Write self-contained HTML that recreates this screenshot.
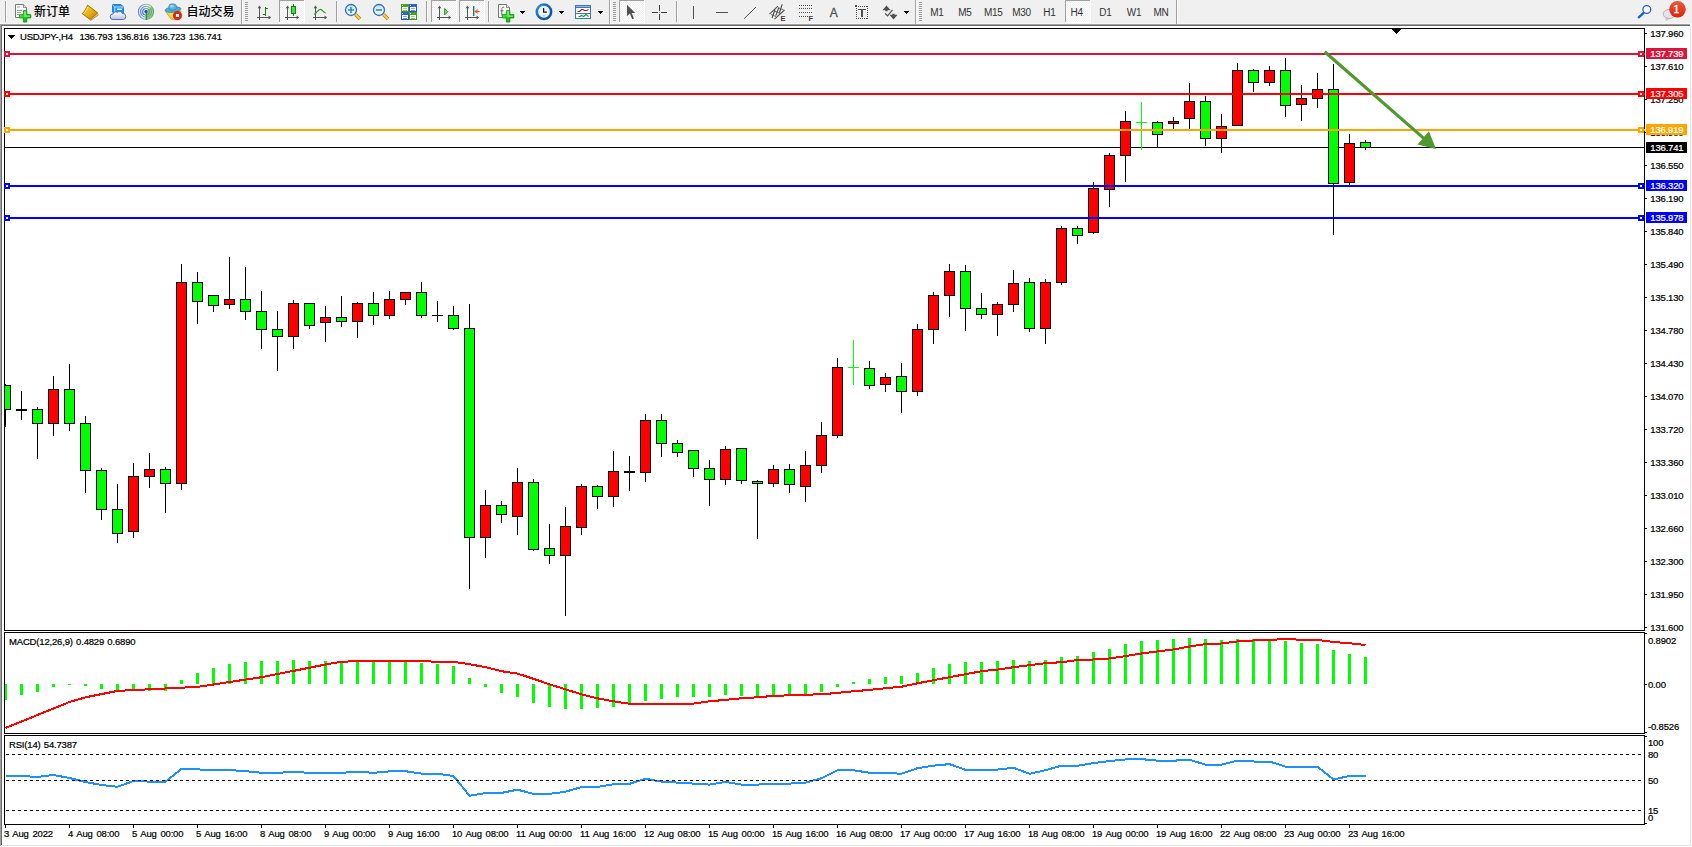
<!DOCTYPE html>
<html lang="zh"><head><meta charset="utf-8"><title>USDJPY-,H4</title>
<style>
html,body{margin:0;padding:0;background:#fff;}
body{width:1692px;height:847px;position:relative;overflow:hidden;font-family:"Liberation Sans","Noto Sans CJK SC",sans-serif;}
.chart{position:absolute;left:0;top:0;}
.chart .t text{font-family:"Liberation Sans",sans-serif;font-size:9.5px;letter-spacing:-0.17px;word-spacing:0.8px;stroke-width:0.22px;}
.chart .t text.d{word-spacing:1.25px;}
.tb{position:absolute;left:0;top:0;width:1692px;height:23px;background:#f0f0f0;}
.edge{position:absolute;}
</style></head><body>
<svg class="chart" width="1692" height="847" viewBox="0 0 1692 847">
<defs><clipPath id="cp"><rect x="5" y="29" width="1639" height="795"/></clipPath></defs>
<g shape-rendering="crispEdges" clip-path="url(#cp)">
<rect x="5" y="147" width="1640" height="1" fill="#000"/>
<rect x="5" y="384" width="1" height="43" fill="#000"/>
<rect x="0" y="385" width="11" height="25" fill="#000"/>
<rect x="1" y="386" width="9" height="23" fill="#00ff00"/>
<rect x="21" y="391" width="1" height="29" fill="#000"/>
<rect x="16" y="409" width="11" height="2" fill="#000"/>
<rect x="37" y="407" width="1" height="52" fill="#000"/>
<rect x="32" y="409" width="11" height="15" fill="#000"/>
<rect x="33" y="410" width="9" height="13" fill="#00ff00"/>
<rect x="53" y="376" width="1" height="60" fill="#000"/>
<rect x="48" y="389" width="11" height="35" fill="#000"/>
<rect x="49" y="390" width="9" height="33" fill="#ff0000"/>
<rect x="69" y="364" width="1" height="67" fill="#000"/>
<rect x="64" y="389" width="11" height="35" fill="#000"/>
<rect x="65" y="390" width="9" height="33" fill="#00ff00"/>
<rect x="85" y="416" width="1" height="77" fill="#000"/>
<rect x="80" y="423" width="11" height="48" fill="#000"/>
<rect x="81" y="424" width="9" height="46" fill="#00ff00"/>
<rect x="101" y="468" width="1" height="52" fill="#000"/>
<rect x="96" y="470" width="11" height="40" fill="#000"/>
<rect x="97" y="471" width="9" height="38" fill="#00ff00"/>
<rect x="117" y="484" width="1" height="59" fill="#000"/>
<rect x="112" y="509" width="11" height="25" fill="#000"/>
<rect x="113" y="510" width="9" height="23" fill="#00ff00"/>
<rect x="133" y="463" width="1" height="75" fill="#000"/>
<rect x="128" y="476" width="11" height="56" fill="#000"/>
<rect x="129" y="477" width="9" height="54" fill="#ff0000"/>
<rect x="149" y="453" width="1" height="35" fill="#000"/>
<rect x="144" y="469" width="11" height="8" fill="#000"/>
<rect x="145" y="470" width="9" height="6" fill="#ff0000"/>
<rect x="165" y="467" width="1" height="46" fill="#000"/>
<rect x="160" y="469" width="11" height="15" fill="#000"/>
<rect x="161" y="470" width="9" height="13" fill="#00ff00"/>
<rect x="181" y="264" width="1" height="226" fill="#000"/>
<rect x="176" y="282" width="11" height="202" fill="#000"/>
<rect x="177" y="283" width="9" height="200" fill="#ff0000"/>
<rect x="197" y="272" width="1" height="52" fill="#000"/>
<rect x="192" y="282" width="11" height="20" fill="#000"/>
<rect x="193" y="283" width="9" height="18" fill="#00ff00"/>
<rect x="213" y="295" width="1" height="17" fill="#000"/>
<rect x="208" y="295" width="11" height="11" fill="#000"/>
<rect x="209" y="296" width="9" height="9" fill="#00ff00"/>
<rect x="229" y="257" width="1" height="52" fill="#000"/>
<rect x="224" y="299" width="11" height="6" fill="#000"/>
<rect x="225" y="300" width="9" height="4" fill="#ff0000"/>
<rect x="245" y="267" width="1" height="53" fill="#000"/>
<rect x="240" y="299" width="11" height="13" fill="#000"/>
<rect x="241" y="300" width="9" height="11" fill="#00ff00"/>
<rect x="261" y="291" width="1" height="58" fill="#000"/>
<rect x="256" y="311" width="11" height="19" fill="#000"/>
<rect x="257" y="312" width="9" height="17" fill="#00ff00"/>
<rect x="277" y="311" width="1" height="60" fill="#000"/>
<rect x="272" y="329" width="11" height="8" fill="#000"/>
<rect x="273" y="330" width="9" height="6" fill="#00ff00"/>
<rect x="293" y="300" width="1" height="49" fill="#000"/>
<rect x="288" y="303" width="11" height="34" fill="#000"/>
<rect x="289" y="304" width="9" height="32" fill="#ff0000"/>
<rect x="309" y="303" width="1" height="26" fill="#000"/>
<rect x="304" y="303" width="11" height="23" fill="#000"/>
<rect x="305" y="304" width="9" height="21" fill="#00ff00"/>
<rect x="325" y="306" width="1" height="36" fill="#000"/>
<rect x="320" y="317" width="11" height="6" fill="#000"/>
<rect x="321" y="318" width="9" height="4" fill="#ff0000"/>
<rect x="341" y="296" width="1" height="31" fill="#000"/>
<rect x="336" y="317" width="11" height="5" fill="#000"/>
<rect x="337" y="318" width="9" height="3" fill="#00ff00"/>
<rect x="357" y="302" width="1" height="36" fill="#000"/>
<rect x="352" y="303" width="11" height="19" fill="#000"/>
<rect x="353" y="304" width="9" height="17" fill="#ff0000"/>
<rect x="373" y="292" width="1" height="33" fill="#000"/>
<rect x="368" y="303" width="11" height="13" fill="#000"/>
<rect x="369" y="304" width="9" height="11" fill="#00ff00"/>
<rect x="389" y="291" width="1" height="28" fill="#000"/>
<rect x="384" y="299" width="11" height="17" fill="#000"/>
<rect x="385" y="300" width="9" height="15" fill="#ff0000"/>
<rect x="405" y="292" width="1" height="13" fill="#000"/>
<rect x="400" y="292" width="11" height="8" fill="#000"/>
<rect x="401" y="293" width="9" height="6" fill="#ff0000"/>
<rect x="421" y="282" width="1" height="36" fill="#000"/>
<rect x="416" y="292" width="11" height="24" fill="#000"/>
<rect x="417" y="293" width="9" height="22" fill="#00ff00"/>
<rect x="437" y="301" width="1" height="21" fill="#000"/>
<rect x="432" y="315" width="11" height="1" fill="#000"/>
<rect x="453" y="306" width="1" height="24" fill="#000"/>
<rect x="448" y="315" width="11" height="14" fill="#000"/>
<rect x="449" y="316" width="9" height="12" fill="#00ff00"/>
<rect x="469" y="304" width="1" height="285" fill="#000"/>
<rect x="464" y="328" width="11" height="210" fill="#000"/>
<rect x="465" y="329" width="9" height="208" fill="#00ff00"/>
<rect x="485" y="490" width="1" height="68" fill="#000"/>
<rect x="480" y="505" width="11" height="33" fill="#000"/>
<rect x="481" y="506" width="9" height="31" fill="#ff0000"/>
<rect x="501" y="501" width="1" height="22" fill="#000"/>
<rect x="496" y="505" width="11" height="10" fill="#000"/>
<rect x="497" y="506" width="9" height="8" fill="#00ff00"/>
<rect x="517" y="468" width="1" height="67" fill="#000"/>
<rect x="512" y="482" width="11" height="35" fill="#000"/>
<rect x="513" y="483" width="9" height="33" fill="#ff0000"/>
<rect x="533" y="479" width="1" height="72" fill="#000"/>
<rect x="528" y="482" width="11" height="68" fill="#000"/>
<rect x="529" y="483" width="9" height="66" fill="#00ff00"/>
<rect x="549" y="524" width="1" height="40" fill="#000"/>
<rect x="544" y="548" width="11" height="8" fill="#000"/>
<rect x="545" y="549" width="9" height="6" fill="#00ff00"/>
<rect x="565" y="507" width="1" height="109" fill="#000"/>
<rect x="560" y="526" width="11" height="30" fill="#000"/>
<rect x="561" y="527" width="9" height="28" fill="#ff0000"/>
<rect x="581" y="484" width="1" height="51" fill="#000"/>
<rect x="576" y="486" width="11" height="42" fill="#000"/>
<rect x="577" y="487" width="9" height="40" fill="#ff0000"/>
<rect x="597" y="485" width="1" height="24" fill="#000"/>
<rect x="592" y="486" width="11" height="11" fill="#000"/>
<rect x="593" y="487" width="9" height="9" fill="#00ff00"/>
<rect x="613" y="451" width="1" height="56" fill="#000"/>
<rect x="608" y="471" width="11" height="26" fill="#000"/>
<rect x="609" y="472" width="9" height="24" fill="#ff0000"/>
<rect x="629" y="456" width="1" height="35" fill="#000"/>
<rect x="624" y="471" width="11" height="2" fill="#000"/>
<rect x="645" y="414" width="1" height="68" fill="#000"/>
<rect x="640" y="420" width="11" height="53" fill="#000"/>
<rect x="641" y="421" width="9" height="51" fill="#ff0000"/>
<rect x="661" y="414" width="1" height="43" fill="#000"/>
<rect x="656" y="420" width="11" height="24" fill="#000"/>
<rect x="657" y="421" width="9" height="22" fill="#00ff00"/>
<rect x="677" y="440" width="1" height="17" fill="#000"/>
<rect x="672" y="443" width="11" height="10" fill="#000"/>
<rect x="673" y="444" width="9" height="8" fill="#00ff00"/>
<rect x="693" y="450" width="1" height="27" fill="#000"/>
<rect x="688" y="450" width="11" height="19" fill="#000"/>
<rect x="689" y="451" width="9" height="17" fill="#00ff00"/>
<rect x="709" y="460" width="1" height="46" fill="#000"/>
<rect x="704" y="468" width="11" height="12" fill="#000"/>
<rect x="705" y="469" width="9" height="10" fill="#00ff00"/>
<rect x="725" y="446" width="1" height="39" fill="#000"/>
<rect x="720" y="449" width="11" height="31" fill="#000"/>
<rect x="721" y="450" width="9" height="29" fill="#ff0000"/>
<rect x="741" y="448" width="1" height="36" fill="#000"/>
<rect x="736" y="448" width="11" height="33" fill="#000"/>
<rect x="737" y="449" width="9" height="31" fill="#00ff00"/>
<rect x="757" y="480" width="1" height="59" fill="#000"/>
<rect x="752" y="481" width="11" height="3" fill="#000"/>
<rect x="753" y="482" width="9" height="1" fill="#00ff00"/>
<rect x="773" y="465" width="1" height="22" fill="#000"/>
<rect x="768" y="469" width="11" height="15" fill="#000"/>
<rect x="769" y="470" width="9" height="13" fill="#ff0000"/>
<rect x="789" y="464" width="1" height="29" fill="#000"/>
<rect x="784" y="469" width="11" height="16" fill="#000"/>
<rect x="785" y="470" width="9" height="14" fill="#00ff00"/>
<rect x="805" y="451" width="1" height="51" fill="#000"/>
<rect x="800" y="465" width="11" height="22" fill="#000"/>
<rect x="801" y="466" width="9" height="20" fill="#ff0000"/>
<rect x="821" y="422" width="1" height="51" fill="#000"/>
<rect x="816" y="435" width="11" height="31" fill="#000"/>
<rect x="817" y="436" width="9" height="29" fill="#ff0000"/>
<rect x="837" y="358" width="1" height="80" fill="#000"/>
<rect x="832" y="367" width="11" height="69" fill="#000"/>
<rect x="833" y="368" width="9" height="67" fill="#ff0000"/>
<rect x="853" y="340" width="1" height="45" fill="#00ff00"/>
<rect x="848" y="367" width="11" height="1" fill="#00ff00"/>
<rect x="869" y="361" width="1" height="28" fill="#000"/>
<rect x="864" y="368" width="11" height="18" fill="#000"/>
<rect x="865" y="369" width="9" height="16" fill="#00ff00"/>
<rect x="885" y="373" width="1" height="19" fill="#000"/>
<rect x="880" y="377" width="11" height="8" fill="#000"/>
<rect x="881" y="378" width="9" height="6" fill="#ff0000"/>
<rect x="901" y="363" width="1" height="50" fill="#000"/>
<rect x="896" y="376" width="11" height="16" fill="#000"/>
<rect x="897" y="377" width="9" height="14" fill="#00ff00"/>
<rect x="917" y="324" width="1" height="72" fill="#000"/>
<rect x="912" y="329" width="11" height="63" fill="#000"/>
<rect x="913" y="330" width="9" height="61" fill="#ff0000"/>
<rect x="933" y="292" width="1" height="52" fill="#000"/>
<rect x="928" y="295" width="11" height="35" fill="#000"/>
<rect x="929" y="296" width="9" height="33" fill="#ff0000"/>
<rect x="949" y="264" width="1" height="53" fill="#000"/>
<rect x="944" y="271" width="11" height="25" fill="#000"/>
<rect x="945" y="272" width="9" height="23" fill="#ff0000"/>
<rect x="965" y="265" width="1" height="66" fill="#000"/>
<rect x="960" y="271" width="11" height="38" fill="#000"/>
<rect x="961" y="272" width="9" height="36" fill="#00ff00"/>
<rect x="981" y="293" width="1" height="26" fill="#000"/>
<rect x="976" y="308" width="11" height="7" fill="#000"/>
<rect x="977" y="309" width="9" height="5" fill="#00ff00"/>
<rect x="997" y="302" width="1" height="34" fill="#000"/>
<rect x="992" y="304" width="11" height="11" fill="#000"/>
<rect x="993" y="305" width="9" height="9" fill="#ff0000"/>
<rect x="1013" y="270" width="1" height="42" fill="#000"/>
<rect x="1008" y="283" width="11" height="22" fill="#000"/>
<rect x="1009" y="284" width="9" height="20" fill="#ff0000"/>
<rect x="1029" y="278" width="1" height="54" fill="#000"/>
<rect x="1024" y="282" width="11" height="47" fill="#000"/>
<rect x="1025" y="283" width="9" height="45" fill="#00ff00"/>
<rect x="1045" y="279" width="1" height="65" fill="#000"/>
<rect x="1040" y="282" width="11" height="47" fill="#000"/>
<rect x="1041" y="283" width="9" height="45" fill="#ff0000"/>
<rect x="1061" y="226" width="1" height="59" fill="#000"/>
<rect x="1056" y="228" width="11" height="55" fill="#000"/>
<rect x="1057" y="229" width="9" height="53" fill="#ff0000"/>
<rect x="1077" y="226" width="1" height="18" fill="#000"/>
<rect x="1072" y="228" width="11" height="8" fill="#000"/>
<rect x="1073" y="229" width="9" height="6" fill="#00ff00"/>
<rect x="1093" y="182" width="1" height="52" fill="#000"/>
<rect x="1088" y="188" width="11" height="45" fill="#000"/>
<rect x="1089" y="189" width="9" height="43" fill="#ff0000"/>
<rect x="1109" y="153" width="1" height="54" fill="#000"/>
<rect x="1104" y="155" width="11" height="35" fill="#000"/>
<rect x="1105" y="156" width="9" height="33" fill="#ff0000"/>
<rect x="1125" y="111" width="1" height="71" fill="#000"/>
<rect x="1120" y="121" width="11" height="35" fill="#000"/>
<rect x="1121" y="122" width="9" height="33" fill="#ff0000"/>
<rect x="1141" y="102" width="1" height="48" fill="#00ff00"/>
<rect x="1136" y="122" width="11" height="1" fill="#00ff00"/>
<rect x="1157" y="121" width="1" height="26" fill="#000"/>
<rect x="1152" y="122" width="11" height="13" fill="#000"/>
<rect x="1153" y="123" width="9" height="11" fill="#00ff00"/>
<rect x="1173" y="117" width="1" height="12" fill="#000"/>
<rect x="1168" y="121" width="11" height="3" fill="#000"/>
<rect x="1169" y="122" width="9" height="1" fill="#ff0000"/>
<rect x="1189" y="83" width="1" height="46" fill="#000"/>
<rect x="1184" y="101" width="11" height="18" fill="#000"/>
<rect x="1185" y="102" width="9" height="16" fill="#ff0000"/>
<rect x="1205" y="96" width="1" height="50" fill="#000"/>
<rect x="1200" y="101" width="11" height="38" fill="#000"/>
<rect x="1201" y="102" width="9" height="36" fill="#00ff00"/>
<rect x="1221" y="114" width="1" height="39" fill="#000"/>
<rect x="1216" y="126" width="11" height="13" fill="#000"/>
<rect x="1217" y="127" width="9" height="11" fill="#ff0000"/>
<rect x="1237" y="63" width="1" height="63" fill="#000"/>
<rect x="1232" y="70" width="11" height="56" fill="#000"/>
<rect x="1233" y="71" width="9" height="54" fill="#ff0000"/>
<rect x="1253" y="69" width="1" height="23" fill="#000"/>
<rect x="1248" y="70" width="11" height="13" fill="#000"/>
<rect x="1249" y="71" width="9" height="11" fill="#00ff00"/>
<rect x="1269" y="66" width="1" height="20" fill="#000"/>
<rect x="1264" y="70" width="11" height="13" fill="#000"/>
<rect x="1265" y="71" width="9" height="11" fill="#ff0000"/>
<rect x="1285" y="58" width="1" height="59" fill="#000"/>
<rect x="1280" y="70" width="11" height="36" fill="#000"/>
<rect x="1281" y="71" width="9" height="34" fill="#00ff00"/>
<rect x="1301" y="85" width="1" height="36" fill="#000"/>
<rect x="1296" y="98" width="11" height="7" fill="#000"/>
<rect x="1297" y="99" width="9" height="5" fill="#ff0000"/>
<rect x="1317" y="73" width="1" height="35" fill="#000"/>
<rect x="1312" y="89" width="11" height="10" fill="#000"/>
<rect x="1313" y="90" width="9" height="8" fill="#ff0000"/>
<rect x="1333" y="64" width="1" height="171" fill="#000"/>
<rect x="1328" y="89" width="11" height="95" fill="#000"/>
<rect x="1329" y="90" width="9" height="93" fill="#00ff00"/>
<rect x="1349" y="134" width="1" height="51" fill="#000"/>
<rect x="1344" y="143" width="11" height="40" fill="#000"/>
<rect x="1345" y="144" width="9" height="38" fill="#ff0000"/>
<rect x="1365" y="140" width="1" height="10" fill="#000"/>
<rect x="1360" y="142" width="11" height="6" fill="#000"/>
<rect x="1361" y="143" width="9" height="4" fill="#00ff00"/>
<rect x="4" y="684" width="3" height="16" fill="#00ff00"/>
<rect x="20" y="684" width="3" height="11" fill="#00ff00"/>
<rect x="36" y="684" width="3" height="8" fill="#00ff00"/>
<rect x="52" y="684" width="3" height="3" fill="#00ff00"/>
<rect x="68" y="684" width="3" height="1" fill="#00ff00"/>
<rect x="84" y="684" width="3" height="2" fill="#00ff00"/>
<rect x="100" y="684" width="3" height="5" fill="#00ff00"/>
<rect x="116" y="684" width="3" height="7" fill="#00ff00"/>
<rect x="132" y="684" width="3" height="7" fill="#00ff00"/>
<rect x="148" y="684" width="3" height="7" fill="#00ff00"/>
<rect x="164" y="684" width="3" height="7" fill="#00ff00"/>
<rect x="180" y="680" width="3" height="4" fill="#00ff00"/>
<rect x="196" y="673" width="3" height="11" fill="#00ff00"/>
<rect x="212" y="668" width="3" height="16" fill="#00ff00"/>
<rect x="228" y="664" width="3" height="20" fill="#00ff00"/>
<rect x="244" y="662" width="3" height="22" fill="#00ff00"/>
<rect x="260" y="661" width="3" height="23" fill="#00ff00"/>
<rect x="276" y="661" width="3" height="23" fill="#00ff00"/>
<rect x="292" y="660" width="3" height="24" fill="#00ff00"/>
<rect x="308" y="661" width="3" height="23" fill="#00ff00"/>
<rect x="324" y="661" width="3" height="23" fill="#00ff00"/>
<rect x="340" y="662" width="3" height="22" fill="#00ff00"/>
<rect x="356" y="662" width="3" height="22" fill="#00ff00"/>
<rect x="372" y="662" width="3" height="22" fill="#00ff00"/>
<rect x="388" y="662" width="3" height="22" fill="#00ff00"/>
<rect x="404" y="662" width="3" height="22" fill="#00ff00"/>
<rect x="420" y="663" width="3" height="21" fill="#00ff00"/>
<rect x="436" y="664" width="3" height="20" fill="#00ff00"/>
<rect x="452" y="666" width="3" height="18" fill="#00ff00"/>
<rect x="468" y="678" width="3" height="6" fill="#00ff00"/>
<rect x="484" y="684" width="3" height="3" fill="#00ff00"/>
<rect x="500" y="684" width="3" height="9" fill="#00ff00"/>
<rect x="516" y="684" width="3" height="13" fill="#00ff00"/>
<rect x="532" y="684" width="3" height="19" fill="#00ff00"/>
<rect x="548" y="684" width="3" height="23" fill="#00ff00"/>
<rect x="564" y="684" width="3" height="25" fill="#00ff00"/>
<rect x="580" y="684" width="3" height="25" fill="#00ff00"/>
<rect x="596" y="684" width="3" height="24" fill="#00ff00"/>
<rect x="612" y="684" width="3" height="23" fill="#00ff00"/>
<rect x="628" y="684" width="3" height="20" fill="#00ff00"/>
<rect x="644" y="684" width="3" height="17" fill="#00ff00"/>
<rect x="660" y="684" width="3" height="15" fill="#00ff00"/>
<rect x="676" y="684" width="3" height="13" fill="#00ff00"/>
<rect x="692" y="684" width="3" height="13" fill="#00ff00"/>
<rect x="708" y="684" width="3" height="13" fill="#00ff00"/>
<rect x="724" y="684" width="3" height="11" fill="#00ff00"/>
<rect x="740" y="684" width="3" height="12" fill="#00ff00"/>
<rect x="756" y="684" width="3" height="12" fill="#00ff00"/>
<rect x="772" y="684" width="3" height="11" fill="#00ff00"/>
<rect x="788" y="684" width="3" height="11" fill="#00ff00"/>
<rect x="804" y="684" width="3" height="10" fill="#00ff00"/>
<rect x="820" y="684" width="3" height="8" fill="#00ff00"/>
<rect x="836" y="684" width="3" height="3" fill="#00ff00"/>
<rect x="852" y="682" width="3" height="2" fill="#00ff00"/>
<rect x="868" y="679" width="3" height="5" fill="#00ff00"/>
<rect x="884" y="677" width="3" height="7" fill="#00ff00"/>
<rect x="900" y="676" width="3" height="8" fill="#00ff00"/>
<rect x="916" y="673" width="3" height="11" fill="#00ff00"/>
<rect x="932" y="668" width="3" height="16" fill="#00ff00"/>
<rect x="948" y="664" width="3" height="20" fill="#00ff00"/>
<rect x="964" y="662" width="3" height="22" fill="#00ff00"/>
<rect x="980" y="662" width="3" height="22" fill="#00ff00"/>
<rect x="996" y="661" width="3" height="23" fill="#00ff00"/>
<rect x="1012" y="660" width="3" height="24" fill="#00ff00"/>
<rect x="1028" y="661" width="3" height="23" fill="#00ff00"/>
<rect x="1044" y="660" width="3" height="24" fill="#00ff00"/>
<rect x="1060" y="657" width="3" height="27" fill="#00ff00"/>
<rect x="1076" y="656" width="3" height="28" fill="#00ff00"/>
<rect x="1092" y="652" width="3" height="32" fill="#00ff00"/>
<rect x="1108" y="649" width="3" height="35" fill="#00ff00"/>
<rect x="1124" y="644" width="3" height="40" fill="#00ff00"/>
<rect x="1140" y="641" width="3" height="43" fill="#00ff00"/>
<rect x="1156" y="640" width="3" height="44" fill="#00ff00"/>
<rect x="1172" y="639" width="3" height="45" fill="#00ff00"/>
<rect x="1188" y="638" width="3" height="46" fill="#00ff00"/>
<rect x="1204" y="639" width="3" height="45" fill="#00ff00"/>
<rect x="1220" y="640" width="3" height="44" fill="#00ff00"/>
<rect x="1236" y="639" width="3" height="45" fill="#00ff00"/>
<rect x="1252" y="639" width="3" height="45" fill="#00ff00"/>
<rect x="1268" y="639" width="3" height="45" fill="#00ff00"/>
<rect x="1284" y="641" width="3" height="43" fill="#00ff00"/>
<rect x="1300" y="643" width="3" height="41" fill="#00ff00"/>
<rect x="1316" y="644" width="3" height="40" fill="#00ff00"/>
<rect x="1332" y="650" width="3" height="34" fill="#00ff00"/>
<rect x="1348" y="654" width="3" height="30" fill="#00ff00"/>
<rect x="1364" y="657" width="3" height="27" fill="#00ff00"/>
</g>
<g clip-path="url(#cp)" shape-rendering="crispEdges"><polyline points="5.5,728.0 21.5,721.5 37.5,715.0 53.5,708.5 69.5,702.0 85.5,697.3 101.5,694.1 117.5,690.9 133.5,690.1 149.5,689.3 165.5,688.5 181.5,687.7 197.5,686.9 213.5,684.5 229.5,682.0 245.5,679.6 261.5,677.2 277.5,674.0 293.5,670.9 309.5,667.7 325.5,664.5 341.5,661.8 357.5,661.1 373.5,661.1 389.5,661.1 405.5,661.1 421.5,661.1 437.5,661.8 453.5,661.8 469.5,664.2 485.5,667.2 501.5,671.2 517.5,673.6 533.5,678.8 549.5,684.3 565.5,689.3 581.5,694.3 597.5,698.3 613.5,701.3 629.5,703.8 645.5,704.0 661.5,704.0 677.5,703.8 693.5,703.6 709.5,701.3 725.5,699.9 741.5,698.3 757.5,697.3 773.5,695.9 789.5,695.3 805.5,694.7 821.5,694.3 837.5,692.9 853.5,691.3 869.5,689.9 885.5,688.3 901.5,686.7 917.5,683.3 933.5,680.2 949.5,677.2 965.5,674.2 981.5,671.2 997.5,669.6 1013.5,667.2 1029.5,665.2 1045.5,663.2 1061.5,662.2 1077.5,660.1 1093.5,659.5 1109.5,658.5 1125.5,656.1 1141.5,653.5 1157.5,651.5 1173.5,649.5 1189.5,646.5 1205.5,644.1 1221.5,643.5 1237.5,641.5 1253.5,640.5 1269.5,640.0 1285.5,639.0 1301.5,639.8 1317.5,640.0 1333.5,642.0 1349.5,643.2 1365.5,645.0" fill="none" stroke="#ff0000" stroke-width="2" stroke-linejoin="round"/>
<polyline points="5.5,776.0 21.5,776.0 37.5,777.0 53.5,775.0 69.5,778.0 85.5,782.0 101.5,785.0 117.5,786.8 133.5,781.0 149.5,781.6 165.5,781.6 181.5,769.0 197.5,769.4 213.5,770.0 229.5,770.0 245.5,771.2 261.5,772.8 277.5,772.8 293.5,772.0 309.5,772.8 325.5,772.8 341.5,772.8 357.5,771.8 373.5,772.8 389.5,771.4 405.5,771.2 421.5,773.6 437.5,773.8 453.5,776.0 469.5,795.7 485.5,793.1 501.5,792.9 517.5,789.7 533.5,793.9 549.5,793.9 565.5,791.7 581.5,787.0 597.5,787.0 613.5,784.2 629.5,783.8 645.5,778.8 661.5,781.6 677.5,782.6 693.5,783.6 709.5,784.6 725.5,782.0 741.5,784.6 757.5,784.6 773.5,783.6 789.5,783.6 805.5,782.6 821.5,778.2 837.5,770.2 853.5,770.2 869.5,772.8 885.5,772.8 901.5,773.8 917.5,768.2 933.5,765.7 949.5,764.1 965.5,769.8 981.5,769.8 997.5,769.6 1013.5,767.8 1029.5,773.8 1045.5,770.2 1061.5,765.7 1077.5,765.7 1093.5,763.1 1109.5,761.1 1125.5,759.5 1141.5,759.1 1157.5,760.7 1173.5,760.7 1189.5,759.7 1205.5,764.7 1221.5,764.7 1237.5,760.7 1253.5,761.5 1269.5,761.5 1285.5,766.6 1301.5,766.6 1317.5,766.6 1333.5,779.5 1349.5,776.0 1365.5,776.0" fill="none" stroke="#1e90ff" stroke-width="2" stroke-linejoin="round"/></g>
<g shape-rendering="crispEdges">
<rect x="4" y="28" width="1641" height="1" fill="#000"/>
<rect x="4" y="630" width="1641" height="1" fill="#000"/>
<rect x="4" y="28" width="1" height="603" fill="#000"/>
<rect x="1644" y="28" width="1" height="603" fill="#000"/>
<rect x="4" y="632" width="1641" height="1" fill="#000"/>
<rect x="4" y="733" width="1641" height="1" fill="#000"/>
<rect x="4" y="632" width="1" height="102" fill="#000"/>
<rect x="1644" y="632" width="1" height="102" fill="#000"/>
<rect x="4" y="735" width="1641" height="1" fill="#000"/>
<rect x="4" y="824" width="1641" height="1" fill="#000"/>
<rect x="4" y="735" width="1" height="90" fill="#000"/>
<rect x="1644" y="735" width="1" height="90" fill="#000"/>
<rect x="1392" y="29" width="9" height="1" fill="#000"/>
<rect x="1393" y="30" width="7" height="1" fill="#000"/>
<rect x="1394" y="31" width="5" height="1" fill="#000"/>
<rect x="1395" y="32" width="3" height="1" fill="#000"/>
<rect x="1396" y="33" width="1" height="1" fill="#000"/>
<path d="M6 754.5H1644" stroke="#000" stroke-width="1" stroke-dasharray="3 3" fill="none"/>
<path d="M6 780.5H1644" stroke="#000" stroke-width="1" stroke-dasharray="3 3" fill="none"/>
<path d="M6 810.5H1644" stroke="#000" stroke-width="1" stroke-dasharray="3 3" fill="none"/>
<rect x="1645" y="33" width="2" height="1" fill="#000"/>
<rect x="1645" y="66" width="2" height="1" fill="#000"/>
<rect x="1645" y="99" width="2" height="1" fill="#000"/>
<rect x="1645" y="132" width="2" height="1" fill="#000"/>
<rect x="1645" y="165" width="2" height="1" fill="#000"/>
<rect x="1645" y="198" width="2" height="1" fill="#000"/>
<rect x="1645" y="231" width="2" height="1" fill="#000"/>
<rect x="1645" y="264" width="2" height="1" fill="#000"/>
<rect x="1645" y="297" width="2" height="1" fill="#000"/>
<rect x="1645" y="330" width="2" height="1" fill="#000"/>
<rect x="1645" y="363" width="2" height="1" fill="#000"/>
<rect x="1645" y="396" width="2" height="1" fill="#000"/>
<rect x="1645" y="429" width="2" height="1" fill="#000"/>
<rect x="1645" y="462" width="2" height="1" fill="#000"/>
<rect x="1645" y="495" width="2" height="1" fill="#000"/>
<rect x="1645" y="528" width="2" height="1" fill="#000"/>
<rect x="1645" y="561" width="2" height="1" fill="#000"/>
<rect x="1645" y="594" width="2" height="1" fill="#000"/>
<rect x="1645" y="627" width="2" height="1" fill="#000"/>
<rect x="1645" y="633" width="2" height="1" fill="#000"/>
<rect x="1645" y="684" width="2" height="1" fill="#000"/>
<rect x="1645" y="732" width="2" height="1" fill="#000"/>
<rect x="1645" y="736" width="2" height="1" fill="#000"/>
<rect x="1645" y="823" width="2" height="1" fill="#000"/>
<rect x="5" y="825" width="1" height="3" fill="#000"/>
<rect x="69" y="825" width="1" height="3" fill="#000"/>
<rect x="133" y="825" width="1" height="3" fill="#000"/>
<rect x="197" y="825" width="1" height="3" fill="#000"/>
<rect x="261" y="825" width="1" height="3" fill="#000"/>
<rect x="325" y="825" width="1" height="3" fill="#000"/>
<rect x="389" y="825" width="1" height="3" fill="#000"/>
<rect x="453" y="825" width="1" height="3" fill="#000"/>
<rect x="517" y="825" width="1" height="3" fill="#000"/>
<rect x="581" y="825" width="1" height="3" fill="#000"/>
<rect x="645" y="825" width="1" height="3" fill="#000"/>
<rect x="709" y="825" width="1" height="3" fill="#000"/>
<rect x="773" y="825" width="1" height="3" fill="#000"/>
<rect x="837" y="825" width="1" height="3" fill="#000"/>
<rect x="901" y="825" width="1" height="3" fill="#000"/>
<rect x="965" y="825" width="1" height="3" fill="#000"/>
<rect x="1029" y="825" width="1" height="3" fill="#000"/>
<rect x="1093" y="825" width="1" height="3" fill="#000"/>
<rect x="1157" y="825" width="1" height="3" fill="#000"/>
<rect x="1221" y="825" width="1" height="3" fill="#000"/>
<rect x="1285" y="825" width="1" height="3" fill="#000"/>
<rect x="1349" y="825" width="1" height="3" fill="#000"/>
<rect x="8" y="35" width="7" height="1" fill="#000"/>
<rect x="9" y="36" width="5" height="1" fill="#000"/>
<rect x="10" y="37" width="3" height="1" fill="#000"/>
<rect x="11" y="38" width="1" height="1" fill="#000"/>
<rect x="4" y="53" width="1641" height="2" fill="#dc143c"/>
<rect x="4" y="51" width="6" height="6" fill="#dc143c"/>
<rect x="6" y="53" width="2" height="2" fill="#fff"/>
<rect x="1638" y="51" width="6" height="6" fill="#dc143c"/>
<rect x="1640" y="53" width="2" height="2" fill="#fff"/>
<rect x="4" y="93" width="1641" height="2" fill="#ff0000"/>
<rect x="4" y="91" width="6" height="6" fill="#ff0000"/>
<rect x="6" y="93" width="2" height="2" fill="#fff"/>
<rect x="1638" y="91" width="6" height="6" fill="#ff0000"/>
<rect x="1640" y="93" width="2" height="2" fill="#fff"/>
<rect x="4" y="129" width="1641" height="2" fill="#ffa500"/>
<rect x="4" y="127" width="6" height="6" fill="#ffa500"/>
<rect x="6" y="129" width="2" height="2" fill="#fff"/>
<rect x="1638" y="127" width="6" height="6" fill="#ffa500"/>
<rect x="1640" y="129" width="2" height="2" fill="#fff"/>
<rect x="4" y="185" width="1641" height="2" fill="#0000ff"/>
<rect x="4" y="183" width="6" height="6" fill="#0000ff"/>
<rect x="6" y="185" width="2" height="2" fill="#fff"/>
<rect x="1638" y="183" width="6" height="6" fill="#0000ff"/>
<rect x="1640" y="185" width="2" height="2" fill="#fff"/>
<rect x="4" y="217" width="1641" height="2" fill="#0000ff"/>
<rect x="4" y="215" width="6" height="6" fill="#0000ff"/>
<rect x="6" y="217" width="2" height="2" fill="#fff"/>
<rect x="1638" y="215" width="6" height="6" fill="#0000ff"/>
<rect x="1640" y="217" width="2" height="2" fill="#fff"/>
</g>
<path d="M1324.7 51.7L1424.7 139.1" stroke="#4e9a2f" stroke-width="3.2" fill="none"/><path d="M1436.0 149.0L1417.5 144.4L1428.9 131.3Z" fill="#4e9a2f"/>
<g class="t">
<text x="1650.3" y="37" fill="#000" stroke="#000">137.960</text>
<text x="1650.3" y="70" fill="#000" stroke="#000">137.610</text>
<text x="1650.3" y="103" fill="#000" stroke="#000">137.250</text>
<text x="1650.3" y="136" fill="#000" stroke="#000">136.900</text>
<text x="1650.3" y="169" fill="#000" stroke="#000">136.550</text>
<text x="1650.3" y="202" fill="#000" stroke="#000">136.190</text>
<text x="1650.3" y="235" fill="#000" stroke="#000">135.840</text>
<text x="1650.3" y="268" fill="#000" stroke="#000">135.490</text>
<text x="1650.3" y="301" fill="#000" stroke="#000">135.130</text>
<text x="1650.3" y="334" fill="#000" stroke="#000">134.780</text>
<text x="1650.3" y="367" fill="#000" stroke="#000">134.430</text>
<text x="1650.3" y="400" fill="#000" stroke="#000">134.070</text>
<text x="1650.3" y="433" fill="#000" stroke="#000">133.720</text>
<text x="1650.3" y="466" fill="#000" stroke="#000">133.360</text>
<text x="1650.3" y="499" fill="#000" stroke="#000">133.010</text>
<text x="1650.3" y="532" fill="#000" stroke="#000">132.660</text>
<text x="1650.3" y="565" fill="#000" stroke="#000">132.300</text>
<text x="1650.3" y="598" fill="#000" stroke="#000">131.950</text>
<text x="1650.3" y="631" fill="#000" stroke="#000">131.600</text>
<text x="1648" y="643.5" fill="#000" stroke="#000">0.8902</text>
<text x="1648" y="688" fill="#000" stroke="#000">0.00</text>
<text x="1648" y="730" fill="#000" stroke="#000">-0.8526</text>
<text x="1648" y="746" fill="#000" stroke="#000">100</text>
<text x="1648" y="758" fill="#000" stroke="#000">80</text>
<text x="1648" y="784" fill="#000" stroke="#000">50</text>
<text x="1648" y="814" fill="#000" stroke="#000">15</text>
<text x="1648" y="821" fill="#000" stroke="#000">0</text>
<text x="4" y="836.8" fill="#000" stroke="#000" class="d">3 Aug 2022</text>
<text x="68" y="836.8" fill="#000" stroke="#000" class="d">4 Aug 08:00</text>
<text x="132" y="836.8" fill="#000" stroke="#000" class="d">5 Aug 00:00</text>
<text x="196" y="836.8" fill="#000" stroke="#000" class="d">5 Aug 16:00</text>
<text x="260" y="836.8" fill="#000" stroke="#000" class="d">8 Aug 08:00</text>
<text x="324" y="836.8" fill="#000" stroke="#000" class="d">9 Aug 00:00</text>
<text x="388" y="836.8" fill="#000" stroke="#000" class="d">9 Aug 16:00</text>
<text x="452" y="836.8" fill="#000" stroke="#000" class="d">10 Aug 08:00</text>
<text x="516" y="836.8" fill="#000" stroke="#000" class="d">11 Aug 00:00</text>
<text x="580" y="836.8" fill="#000" stroke="#000" class="d">11 Aug 16:00</text>
<text x="644" y="836.8" fill="#000" stroke="#000" class="d">12 Aug 08:00</text>
<text x="708" y="836.8" fill="#000" stroke="#000" class="d">15 Aug 00:00</text>
<text x="772" y="836.8" fill="#000" stroke="#000" class="d">15 Aug 16:00</text>
<text x="836" y="836.8" fill="#000" stroke="#000" class="d">16 Aug 08:00</text>
<text x="900" y="836.8" fill="#000" stroke="#000" class="d">17 Aug 00:00</text>
<text x="964" y="836.8" fill="#000" stroke="#000" class="d">17 Aug 16:00</text>
<text x="1028" y="836.8" fill="#000" stroke="#000" class="d">18 Aug 08:00</text>
<text x="1092" y="836.8" fill="#000" stroke="#000" class="d">19 Aug 00:00</text>
<text x="1156" y="836.8" fill="#000" stroke="#000" class="d">19 Aug 16:00</text>
<text x="1220" y="836.8" fill="#000" stroke="#000" class="d">22 Aug 08:00</text>
<text x="1284" y="836.8" fill="#000" stroke="#000" class="d">23 Aug 00:00</text>
<text x="1348" y="836.8" fill="#000" stroke="#000" class="d">23 Aug 16:00</text>
<text x="20" y="39.6" fill="#000" stroke="#000">USDJPY-,H4&#160; 136.793 136.816 136.723 136.741</text>
<text x="9" y="645" fill="#000" stroke="#000">MACD(12,26,9) 0.4829 0.6890</text>
<text x="9" y="748" fill="#000" stroke="#000">RSI(14) 54.7387</text>
</g>
<g shape-rendering="crispEdges">
<rect x="1646" y="48" width="41" height="11" fill="#dc143c"/>
<rect x="1646" y="88" width="41" height="11" fill="#ff0000"/>
<rect x="1646" y="124" width="41" height="11" fill="#ffa500"/>
<rect x="1646" y="180" width="41" height="11" fill="#0000ff"/>
<rect x="1646" y="212" width="41" height="11" fill="#0000ff"/>
<rect x="1646" y="142" width="41" height="11" fill="#000"/>
</g>
<g class="t">
<text x="1650.3" y="57" fill="#fff" stroke="#fff">137.739</text>
<text x="1650.3" y="97" fill="#fff" stroke="#fff">137.305</text>
<text x="1650.3" y="133" fill="#fff" stroke="#fff">136.919</text>
<text x="1650.3" y="189" fill="#fff" stroke="#fff">136.320</text>
<text x="1650.3" y="221" fill="#fff" stroke="#fff">135.978</text>
<text x="1650.3" y="151" fill="#fff" stroke="#fff">136.741</text>
</g>
</svg>
<div class="edge" style="left:0;top:23px;width:1692px;height:1px;background:#f8f8f8"></div>
<div class="edge" style="left:0;top:24px;width:1690px;height:1px;background:#a0a0a0"></div>
<div class="edge" style="left:1px;top:25px;width:1689px;height:1px;background:#696969"></div>
<div class="edge" style="left:0;top:24px;width:1px;height:822px;background:#a0a0a0"></div>
<div class="edge" style="left:1px;top:25px;width:1px;height:820px;background:#696969"></div>
<div class="edge" style="left:2px;top:845px;width:1689px;height:1px;background:#e3e3e3"></div>
<div class="edge" style="left:1690px;top:26px;width:1px;height:820px;background:#e3e3e3"></div>
<div class="tb">
<svg class="tbs" width="1692" height="24" viewBox="0 0 1692 24">
<defs>
<linearGradient id="gPlus" x1="0" y1="0" x2="1" y2="1"><stop offset="0" stop-color="#7dff7d"/><stop offset="0.5" stop-color="#1fd01f"/><stop offset="1" stop-color="#0a9a0a"/></linearGradient>
<linearGradient id="gGold" x1="0" y1="0" x2="1" y2="1"><stop offset="0" stop-color="#f7d23a"/><stop offset="0.5" stop-color="#e9b10f"/><stop offset="1" stop-color="#b87a08"/></linearGradient>
<linearGradient id="gCloud" x1="0" y1="0" x2="0" y2="1"><stop offset="0" stop-color="#ffffff"/><stop offset="1" stop-color="#b9c6de"/></linearGradient>
<linearGradient id="gBadge" x1="0" y1="0" x2="0" y2="1"><stop offset="0" stop-color="#ea5a38"/><stop offset="1" stop-color="#d8240c"/></linearGradient>
<linearGradient id="gLens" x1="0" y1="0" x2="0" y2="1"><stop offset="0" stop-color="#c7e6f8"/><stop offset="1" stop-color="#eef8fe"/></linearGradient>
<radialGradient id="gSig" cx="0.5" cy="0.5" r="0.5"><stop offset="0" stop-color="#2a62c8"/><stop offset="0.25" stop-color="#ffffff"/><stop offset="0.45" stop-color="#5b86d6"/><stop offset="0.6" stop-color="#ffffff"/><stop offset="0.8" stop-color="#6d94db"/><stop offset="1" stop-color="#e8eef8"/></radialGradient>
<linearGradient id="gRing" x1="0" y1="0" x2="1" y2="0"><stop offset="0" stop-color="#2f62d0"/><stop offset="0.5" stop-color="#7fa0dc"/><stop offset="0.62" stop-color="#7fb08a"/><stop offset="1" stop-color="#3f9a4a"/></linearGradient>
<pattern id="chk" width="2" height="2" patternUnits="userSpaceOnUse"><rect width="2" height="2" fill="#fff"/><rect x="0" y="0" width="1" height="1" fill="#f0f0f0"/><rect x="1" y="1" width="1" height="1" fill="#f0f0f0"/></pattern>
<linearGradient id="gClock" x1="0" y1="0" x2="1" y2="1"><stop offset="0" stop-color="#2a9af0"/><stop offset="0.5" stop-color="#0c66c4"/><stop offset="1" stop-color="#084a9a"/></linearGradient>
<g id="axes" stroke="#555" stroke-width="1" fill="none" shape-rendering="crispEdges"><path d="M3.5 7V20M1 17.5H14"/></g>
<g id="axesheads" fill="#555"><path d="M3.5 5.6L1.6 8.2H5.4ZM15.2 17.5L12.6 15.6V19.4Z"/></g>
<g id="dd" fill="#000" shape-rendering="crispEdges"><rect x="-2" y="11" width="5" height="1"/><rect x="-1" y="12" width="3" height="1"/><rect x="0" y="13" width="1" height="1"/></g>
<g id="grip" fill="#a0a0a0" shape-rendering="crispEdges"><rect x="0" y="2" width="3" height="1"/><rect x="0" y="4" width="3" height="1"/><rect x="0" y="6" width="3" height="1"/><rect x="0" y="8" width="3" height="1"/><rect x="0" y="10" width="3" height="1"/><rect x="0" y="12" width="3" height="1"/><rect x="0" y="14" width="3" height="1"/><rect x="0" y="16" width="3" height="1"/><rect x="0" y="18" width="3" height="1"/><rect x="0" y="20" width="3" height="1"/></g>
<g id="pressed" shape-rendering="crispEdges"><rect x="0" y="0" width="26" height="23" fill="url(#chk)"/><rect x="0" y="0" width="26" height="1" fill="#a0a0a0"/><rect x="0" y="0" width="1" height="22" fill="#a0a0a0"/><rect x="25" y="0" width="1" height="23" fill="#fff"/><rect x="0" y="22" width="26" height="1" fill="#fff"/></g>
<g id="plus"><path d="M4.4 0.4H7.8V4.4H11.8V7.8H7.8V11.8H4.4V7.8H0.4V4.4H4.4Z" fill="url(#gPlus)" stroke="#0a900a" stroke-width="0.8"/><path d="M5.3 1.3H6.9V5.3H10.9V6.9H5.3Z" fill="#b8ffb8" opacity="0.55"/></g>
</defs>
<rect width="1692" height="23" fill="#f0f0f0"/><rect y="23" width="1692" height="1" fill="#f6f6f6"/>
<!-- separators -->
<g shape-rendering="crispEdges">
<rect x="5" y="1" width="1" height="21" fill="#a0a0a0"/><rect x="6" y="1" width="1" height="21" fill="#fafafa"/>
<rect x="241" y="0" width="1" height="24" fill="#a0a0a0"/><rect x="242" y="0" width="1" height="24" fill="#fff"/>
<rect x="336" y="1" width="1" height="21" fill="#a0a0a0"/><rect x="337" y="1" width="1" height="21" fill="#fafafa"/>
<rect x="426" y="1" width="1" height="21" fill="#a0a0a0"/><rect x="427" y="1" width="1" height="21" fill="#fafafa"/>
<rect x="488" y="1" width="1" height="21" fill="#a0a0a0"/><rect x="489" y="1" width="1" height="21" fill="#fafafa"/>
<rect x="609" y="0" width="1" height="24" fill="#a0a0a0"/><rect x="610" y="0" width="1" height="24" fill="#fff"/>
<rect x="676" y="1" width="1" height="21" fill="#a0a0a0"/><rect x="677" y="1" width="1" height="21" fill="#fafafa"/>
<rect x="915" y="0" width="1" height="24" fill="#a0a0a0"/><rect x="916" y="0" width="1" height="24" fill="#fff"/>
<rect x="1176" y="0" width="1" height="24" fill="#a0a0a0"/><rect x="1177" y="0" width="1" height="24" fill="#fff"/>
</g>
<use href="#grip" x="245"/><use href="#grip" x="613"/><use href="#grip" x="919"/>
<!-- new order -->
<g>
<path d="M15.5 4.5H23.5L26.5 7.5V17.5H15.5Z" fill="#fff" stroke="#777" stroke-width="1" stroke-linejoin="round"/>
<path d="M23.5 4.5V7.5H26.5" fill="#e8e8e8" stroke="#777" stroke-width="0.8"/>
<path d="M17 7H20M17 10.5H22M17 12.5H21M17 14.5H19" stroke="#999" stroke-width="1"/>
<use href="#plus" x="19" y="10.2"/>
</g>
<text x="34" y="15.5" font-size="12" fill="#000" style="font-weight:500;font-family:'Liberation Sans','Noto Sans CJK SC',sans-serif">新订单</text>
<!-- book -->
<g>
<path d="M90.5 20.3L98.4 14.2" stroke="#d9c890" stroke-width="1.6"/>
<path d="M90 20.6L98.6 14.9" stroke="#a86c06" stroke-width="0.6"/>
<path d="M87.6 5.2C86.6 8 84.6 11.4 82.2 13.6L90 19.4L97.8 13Z" fill="url(#gGold)" stroke="#a86c06" stroke-width="1" stroke-linejoin="round"/>
<path d="M88 7C87 9.4 85.4 12 84 13.4" stroke="#fbe27a" stroke-width="1" fill="none"/>
</g>
<!-- server cloud -->
<g>
<path d="M112.5 4.5H121L123.5 7V14H114.5L112.5 12Z" fill="#1e96f0" stroke="#0f6fd0" stroke-width="0.8"/>
<path d="M114.8 7V14M112.5 4.8L114.8 7H123.5" stroke="#d8efff" stroke-width="0.8" fill="none"/>
<rect x="117" y="8.5" width="5" height="1.5" fill="#d8efff"/>
<path d="M113 19.5a2.8 2.8 0 0 1 0-5.6a3 3 0 0 1 4.5-1.6a3.2 3.2 0 0 1 5 1.2a3 3 0 0 1 0.6 6Z" fill="url(#gCloud)" stroke="#4a66a0" stroke-width="0.9"/>
</g>
<!-- signal -->
<g fill="none">
<circle cx="146" cy="11.8" r="7.6" stroke="url(#gRing)" stroke-width="1.1" opacity="0.75"/>
<circle cx="146" cy="11.8" r="5.4" stroke="url(#gRing)" stroke-width="1.1" opacity="0.85"/>
<circle cx="146" cy="11.8" r="3.3" stroke="url(#gRing)" stroke-width="1.1"/>
<path d="M146.2 11.8L151.6 6.4A7.8 7.8 0 0 1 146.2 19.6Z" fill="#58a858" opacity="0.55"/>
<rect x="145.7" y="12" width="1.5" height="8" fill="#2a9a2a"/>
<circle cx="146" cy="11.5" r="1.7" fill="#2352c4"/>
</g>
<!-- auto trading -->
<g>
<path d="M165.6 11.6L181 11L176 19.8L171.5 19.6Z" fill="#f5dc50" stroke="#caa418" stroke-width="0.8" stroke-linejoin="round"/>
<path d="M166.5 12.2L171.8 19L174 19.3Z" fill="#e0b820" opacity="0.6"/>
<ellipse cx="173" cy="9.6" rx="8" ry="2.7" transform="rotate(-6 173 9.6)" fill="#4ea8d2" stroke="#2f86b2" stroke-width="0.7"/>
<ellipse cx="172.6" cy="7" rx="4" ry="3.2" fill="#5bb4dc" stroke="#2f86b2" stroke-width="0.7"/>
<ellipse cx="171.8" cy="6.2" rx="2" ry="1.3" fill="#a8dcf2" opacity="0.8"/>
<circle cx="177.5" cy="15.6" r="4.3" fill="#dc2a10"/>
<circle cx="177.5" cy="15.6" r="4.3" fill="none" stroke="#b81c08" stroke-width="0.5"/>
<rect x="176" y="14" width="3" height="3" fill="#fff"/>
</g>
<text x="186.5" y="15.5" font-size="12" fill="#000" style="font-weight:500;font-family:'Liberation Sans','Noto Sans CJK SC',sans-serif">自动交易</text>
<!-- bar chart -->
<use href="#axes" x="256"/><use href="#axesheads" x="256"/>
<g fill="#0a8a0a" shape-rendering="crispEdges"><rect x="265" y="7" width="1" height="9"/><rect x="266" y="8" width="2" height="1"/><rect x="263" y="14" width="2" height="1"/></g>
<!-- candle (pressed) -->
<use href="#pressed" x="279"/>
<use href="#axes" x="284"/><use href="#axesheads" x="284"/>
<g><rect x="293" y="4" width="1" height="12" fill="#0a8a0a" shape-rendering="crispEdges"/><rect x="291.5" y="6.5" width="4" height="7" fill="#3fe03f" stroke="#0a8a0a" stroke-width="1"/></g>
<!-- line chart -->
<use href="#axes" x="312"/><use href="#axesheads" x="312"/>
<path d="M314 14.5C317 13 318 9 320.5 9.3C322.5 9.6 323 12.5 325.8 13" fill="none" stroke="#2a9a2a" stroke-width="1.2"/>
<!-- zoom in -->
<g>
<path d="M355.5 14.5L360 19" stroke="#b8860b" stroke-width="3.6" stroke-linecap="butt"/>
<path d="M355.5 14.5L360 19" stroke="#f0d040" stroke-width="2" stroke-linecap="butt"/>
<circle cx="351" cy="10" r="5.5" fill="url(#gLens)" stroke="#2a6fc0" stroke-width="1.3"/>
<path d="M348 10H354M351 7V13" stroke="#3a8ab8" stroke-width="1.6"/>
</g>
<!-- zoom out -->
<g>
<path d="M383.5 14.5L388 19" stroke="#b8860b" stroke-width="3.6"/>
<path d="M383.5 14.5L388 19" stroke="#f0d040" stroke-width="2"/>
<circle cx="379" cy="10" r="5.5" fill="url(#gLens)" stroke="#2a6fc0" stroke-width="1.3"/>
<path d="M376 10H382" stroke="#3a8ab8" stroke-width="1.6"/>
</g>
<!-- tile -->
<g shape-rendering="crispEdges"><rect x="401" y="4" width="8" height="8" rx="1" fill="#3a9a10"/><rect x="401" y="4" width="8" height="3" rx="1" fill="#5ac030" opacity="0.35"/><rect x="402" y="5" width="1" height="1" fill="#fff"/><rect x="402" y="7" width="6" height="3" fill="#fff"/><rect x="402" y="10" width="1" height="1" fill="#fff"/><rect x="407" y="10" width="1" height="1" fill="#fff"/><rect x="403" y="8" width="4" height="1" fill="#a6d890"/><rect x="403" y="10" width="4" height="1" fill="#a6d890" opacity="0.7"/><rect x="409" y="4" width="8" height="8" rx="1" fill="#1f52cc"/><rect x="409" y="4" width="8" height="3" rx="1" fill="#4a80f0" opacity="0.35"/><rect x="410" y="5" width="1" height="1" fill="#fff"/><rect x="410" y="7" width="6" height="3" fill="#fff"/><rect x="410" y="10" width="1" height="1" fill="#fff"/><rect x="415" y="10" width="1" height="1" fill="#fff"/><rect x="411" y="8" width="4" height="1" fill="#8aa8ee"/><rect x="411" y="10" width="4" height="1" fill="#8aa8ee" opacity="0.7"/><rect x="401" y="12" width="8" height="8" rx="1" fill="#1f52cc"/><rect x="401" y="12" width="8" height="3" rx="1" fill="#4a80f0" opacity="0.35"/><rect x="402" y="13" width="1" height="1" fill="#fff"/><rect x="402" y="15" width="6" height="3" fill="#fff"/><rect x="402" y="18" width="1" height="1" fill="#fff"/><rect x="407" y="18" width="1" height="1" fill="#fff"/><rect x="403" y="16" width="4" height="1" fill="#8aa8ee"/><rect x="403" y="18" width="4" height="1" fill="#8aa8ee" opacity="0.7"/><rect x="409" y="12" width="8" height="8" rx="1" fill="#3a9a10"/><rect x="409" y="12" width="8" height="3" rx="1" fill="#5ac030" opacity="0.35"/><rect x="410" y="13" width="1" height="1" fill="#fff"/><rect x="410" y="15" width="6" height="3" fill="#fff"/><rect x="410" y="18" width="1" height="1" fill="#fff"/><rect x="415" y="18" width="1" height="1" fill="#fff"/><rect x="411" y="16" width="4" height="1" fill="#a6d890"/><rect x="411" y="18" width="4" height="1" fill="#a6d890" opacity="0.7"/></g>
<!-- autoscroll pressed -->
<use href="#pressed" x="431"/>
<use href="#axes" x="436"/><use href="#axesheads" x="436"/>
<path d="M444.6 8.5L447.8 11.7L444.6 14.9Z" fill="#7be87b" stroke="#0a8a0a" stroke-width="0.9" stroke-linejoin="round"/>
<!-- chart shift pressed -->
<use href="#pressed" x="459"/>
<use href="#axes" x="464"/><use href="#axesheads" x="464"/>
<rect x="473" y="6" width="1.4" height="10" fill="#1a6ea0"/>
<path d="M474.6 11.5L477.6 9.5L476.9 11H479.3V12H476.9L477.6 13.5Z" fill="#f06a10" stroke="#c84800" stroke-width="0.35"/>
<!-- indicators doc+ -->
<g>
<path d="M498.5 4.5H506.5L509.5 7.5V17.5H498.5Z" fill="#fff" stroke="#777" stroke-width="1" stroke-linejoin="round"/>
<path d="M506.5 4.5V7.5H509.5" fill="#e8e8e8" stroke="#777" stroke-width="0.8"/>
<path d="M504 7.3C502.2 6.8 501.8 7.8 501.8 9.5V15.6M500.5 10.8H503.5" fill="none" stroke="#5a5a3a" stroke-width="0.9"/>
<use href="#plus" x="502" y="10.2"/>
</g>
<use href="#dd" x="522"/>
<!-- clock -->
<g>
<circle cx="544" cy="11.8" r="7.1" fill="#f4f8fc" stroke="url(#gClock)" stroke-width="2.3"/>
<circle cx="544" cy="11.8" r="8.2" fill="none" stroke="#0a4a96" stroke-width="0.5" opacity="0.8"/>
<g stroke="#9aa4ae" stroke-width="0.7"><path d="M544 6.3V7.3M544 16.3V17.3M538.5 11.8H539.5M548.5 11.8H549.5M540.1 7.9L540.8 8.6M547.9 7.9L547.2 8.6M540.1 15.7L540.8 15M547.9 15.7L547.2 15"/></g>
<path d="M543.6 8V12.1H547" fill="none" stroke="#1a1a1a" stroke-width="1.3"/>
<path d="M543 15.3H545.4" stroke="#7ab0f0" stroke-width="0.8"/>
</g>
<use href="#dd" x="561"/>
<!-- templates -->
<g shape-rendering="crispEdges">
<rect x="575" y="5" width="16" height="14" fill="#3a78c0"/>
<rect x="576" y="6" width="14" height="1" fill="#8ab8ec"/>
<rect x="576" y="8" width="14" height="5" fill="#fff"/>
<rect x="576" y="14" width="14" height="4" fill="#fff"/>
</g>
<path d="M577.5 11.5H579.5L581.5 9.5H583L584.5 10.5H586.5L588.5 9.5" fill="none" stroke="#a02010" stroke-width="1.1"/>
<path d="M578.5 16.5H580L581.5 15.5L583.5 16.5L586 14.5L588.5 16.5" fill="none" stroke="#1a9a2a" stroke-width="1.1"/>
<use href="#dd" x="600"/>
<!-- cursor pressed -->
<use href="#pressed" x="619"/>
<path d="M627 4.8V16.2L629.8 13.6L632.3 19.2L634 18.4L631.6 13H635.2Z" fill="#505050"/>
<!-- crosshair -->
<g fill="#404040" shape-rendering="crispEdges"><rect x="659" y="5" width="1" height="6"/><rect x="659" y="14" width="1" height="6"/><rect x="652" y="12" width="6" height="1"/><rect x="661" y="12" width="6" height="1"/><rect x="659" y="12" width="1" height="1" fill="#8a8a70"/></g>
<!-- vline hline trend -->
<g fill="#505050" shape-rendering="crispEdges"><rect x="693" y="6" width="1" height="13"/><rect x="716" y="12" width="12" height="1"/></g>
<path d="M744 18.8L756 7" stroke="#505050" stroke-width="1"/>
<!-- channel -->
<g stroke="#505050" fill="none" stroke-width="1.1">
<path d="M769.5 14.2L778 6.2M774.5 19.2L784.5 10"/>
<path d="M772 18L775 9.5M775.8 15.6L778.8 7.6M779.4 12.8L782.2 4.4" stroke-width="1.2"/>
<path d="M771 14.5L776 16.5M774.5 11L780 13.5M778.5 7.8L783.5 9.8" stroke-width="0.8"/>
</g>
<text x="780.6" y="21" font-size="7.5" font-weight="bold" fill="#404040" style="font-family:'Liberation Sans',sans-serif">E</text>
<!-- fibo -->
<g stroke="#505050" stroke-width="1" stroke-dasharray="1 1" shape-rendering="crispEdges"><path d="M799 5.5H813M799 8.5H813M799 12.5H813M799 16.5H808"/></g>
<text x="808.6" y="21" font-size="7.5" font-weight="bold" fill="#404040" style="font-family:'Liberation Sans',sans-serif">F</text>
<!-- A -->
<text x="829.8" y="17" font-size="12" fill="#505050" stroke="#505050" stroke-width="0.3" style="font-family:'Liberation Sans',sans-serif">A</text>
<!-- T label -->
<g stroke="#505050" stroke-width="1" stroke-dasharray="1 1" fill="none" shape-rendering="crispEdges"><path d="M856 6.5H868M856 18.5H868M856.5 6V19M867.5 6V19"/></g>
<rect x="855" y="5" width="2" height="2" fill="#505050"/>
<g fill="#505050" shape-rendering="crispEdges"><rect x="858" y="9" width="8" height="1"/><rect x="861" y="9" width="2" height="8"/></g>
<!-- arrows -->
<path d="M886.5 5.6L890.6 10.2H887.6V11.2H885.4V10.2H882.4Z" fill="#505050"/>
<path d="M893.5 19.4L897.6 14.8H894.6V13.8H892.4V14.8H889.4Z" fill="#505050"/>
<path d="M885 13.4L887.5 15.8L892.6 9.8" fill="none" stroke="#505050" stroke-width="1.2"/>
<use href="#dd" x="906"/>
<!-- timeframes -->
<rect x="1065" y="0" width="26" height="23" fill="url(#chk)" shape-rendering="crispEdges"/>
<rect x="1065" y="0" width="26" height="1" fill="#a0a0a0" shape-rendering="crispEdges"/><rect x="1065" y="0" width="1" height="22" fill="#a0a0a0" shape-rendering="crispEdges"/><rect x="1090" y="0" width="1" height="23" fill="#fff" shape-rendering="crispEdges"/><rect x="1065" y="22" width="26" height="1" fill="#fff" shape-rendering="crispEdges"/>
<g font-size="10" fill="#333" text-anchor="middle" style="font-family:'Liberation Sans',sans-serif;letter-spacing:-0.3px">
<text x="937" y="16">M1</text><text x="965" y="16">M5</text><text x="993.3" y="16">M15</text><text x="1021.5" y="16">M30</text><text x="1049.4" y="16">H1</text><text x="1076.6" y="16">H4</text><text x="1105.4" y="16">D1</text><text x="1134" y="16">W1</text><text x="1161" y="16">MN</text>
</g>
<!-- search -->
<g>
<path d="M1643.7 12.8L1638.8 17.3" stroke="#1f5fd0" stroke-width="2.4" stroke-linecap="round"/>
<circle cx="1646.8" cy="9.5" r="3.9" fill="#fbfbff" stroke="#1f5fd0" stroke-width="1.3"/>
</g>
<!-- chat + badge -->
<g>
<ellipse cx="1669" cy="14" rx="5.8" ry="4.6" fill="#e4e4ec" stroke="#a8a8a8" stroke-width="0.8"/>
<path d="M1666 17.8L1666.4 20.6L1669 18.4Z" fill="#d8d8e0" stroke="#a0a0a0" stroke-width="0.5"/>
<circle cx="1677.5" cy="9.3" r="8.3" fill="url(#gBadge)"/>
<text x="1676.4" y="13.4" font-size="13.5" fill="#fff" stroke="#fff" stroke-width="0.35" text-anchor="middle" style="font-family:'Liberation Serif',serif">1</text>
</g>
</svg>

</div>
</body></html>
